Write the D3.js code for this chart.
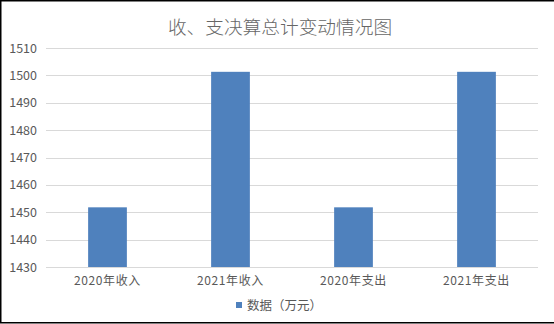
<!DOCTYPE html>
<html>
<head>
<meta charset="utf-8">
<script src="https://cdn.jsdelivr.net/npm/d3@7"></script>
<style>
  html, body { margin: 0; padding: 0; background: #fff; }
  svg { display: block; font-family: "Noto Sans CJK SC", "Liberation Sans", sans-serif; }
</style>
</head>
<body>
<div id="chart"></div>
<script>
const categories = ['2020年收入', '2021年收入', '2020年支出', '2021年支出'];
const values = [1451.8, 1501.3, 1451.8, 1501.3];
const yTicks = [1430, 1440, 1450, 1460, 1470, 1480, 1490, 1500, 1510];
const seriesName = '数据（万元）';
const title = '收、支决算总计变动情况图';

const width = 554, height = 324;
const margin = { top: 48, right: 16, bottom: 57, left: 46 };

const svg = d3.select('#chart').append('svg')
  .attr('width', width)
  .attr('height', height);

svg.append('rect')
  .attr('width', width)
  .attr('height', height)
  .attr('fill', '#fff');

// outer frame (left, top, bottom visible)
svg.append('path')
  .attr('d', `M${width},0.75 H0.75 V${height - 1.25} H${width}`)
  .attr('fill', 'none')
  .attr('stroke', '#000')
  .attr('stroke-width', 1.5);

svg.append('text')
  .attr('x', 280)
  .attr('y', 34)
  .attr('text-anchor', 'middle')
  .attr('font-size', 18.7)
  .attr('font-weight', 300)
  .attr('fill', '#666')
  .text(title);

const x = d3.scaleBand()
  .domain(categories)
  .range([margin.left, width - margin.right])
  .paddingInner(0.685)
  .paddingOuter(0.3425);

const y = d3.scaleLinear()
  .domain([1430, 1510])
  .range([height - margin.bottom, margin.top]);

// gridlines
svg.append('g')
  .selectAll('line')
  .data(yTicks)
  .join('line')
  .attr('x1', margin.left)
  .attr('x2', width - margin.right)
  .attr('y1', d => Math.round(y(d)) + 0.5)
  .attr('y2', d => Math.round(y(d)) + 0.5)
  .attr('stroke', '#d9d9d9')
  .attr('stroke-width', 1);

// y labels
svg.append('g')
  .selectAll('text')
  .data(yTicks)
  .join('text')
  .attr('x', 37)
  .attr('y', d => y(d))
  .attr('dy', '0.36em')
  .attr('text-anchor', 'end')
  .attr('font-size', 12.5)
  .attr('fill', '#595959')
  .text(d => d);

// bars
svg.append('g')
  .selectAll('rect')
  .data(values)
  .join('rect')
  .attr('x', (d, i) => x(categories[i]))
  .attr('width', x.bandwidth())
  .attr('y', d => y(d))
  .attr('height', d => y(1430) - y(d))
  .attr('fill', '#4f81bd');

// x axis line
svg.append('line')
  .attr('x1', margin.left)
  .attr('x2', width - margin.right)
  .attr('y1', Math.round(y(1430)) + 0.5)
  .attr('y2', Math.round(y(1430)) + 0.5)
  .attr('stroke', '#d9d9d9');

// x labels
svg.append('g')
  .selectAll('text')
  .data(categories)
  .join('text')
  .attr('x', d => x(d) + x.bandwidth() / 2)
  .attr('y', 285)
  .attr('text-anchor', 'middle')
  .attr('font-size', 12)
  .attr('letter-spacing', 0.6)
  .attr('fill', '#595959')
  .text(d => d);

// legend
const legend = svg.append('g');
legend.append('rect')
  .attr('x', 236)
  .attr('y', 302)
  .attr('width', 6)
  .attr('height', 6)
  .attr('fill', '#4f81bd');
legend.append('text')
  .attr('x', 247)
  .attr('y', 309.5)
  .attr('font-size', 12.5)
  .attr('fill', '#595959')
  .text(seriesName);
</script>
</body>
</html>
